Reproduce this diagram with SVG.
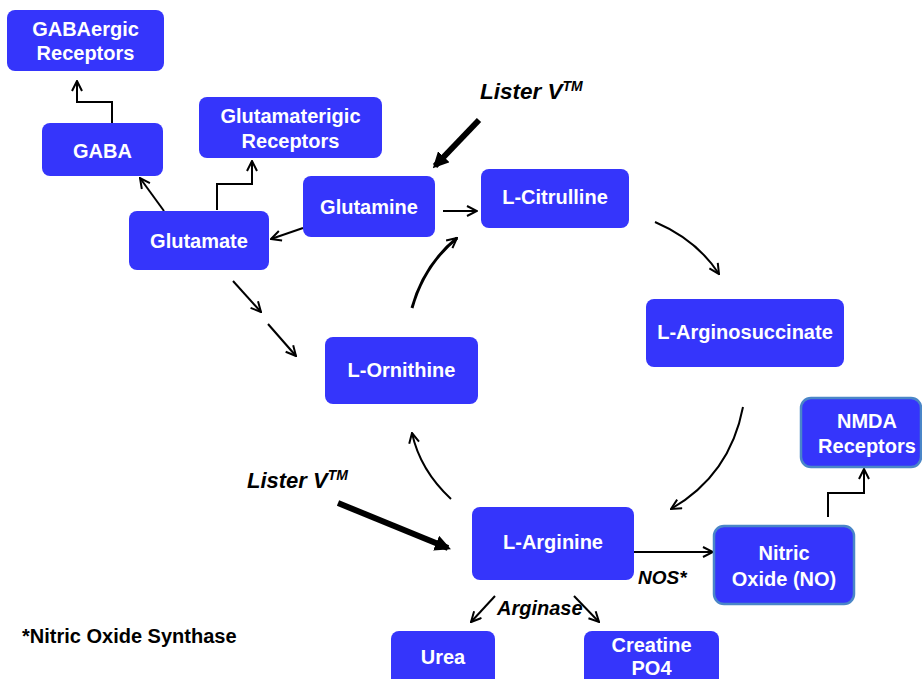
<svg xmlns="http://www.w3.org/2000/svg" width="922" height="679" viewBox="0 0 922 679">
<style>
.box{fill:#3535fb;}
.bb{fill:#3535fb;stroke:#4a86c8;stroke-width:2.5;}
.t{font-family:"Liberation Sans",Arial,sans-serif;font-weight:bold;font-size:20px;fill:#fff;text-anchor:middle;}
.k{font-family:"Liberation Sans",Arial,sans-serif;font-weight:bold;fill:#000;}
.ln{fill:none;stroke:#000;stroke-width:2;marker-end:url(#open);}
.th{fill:none;stroke:#000;stroke-width:6;marker-end:url(#solid);}
</style>
<defs>
<marker id="open" viewBox="0 0 12 12" refX="11" refY="6" markerWidth="12" markerHeight="12" markerUnits="userSpaceOnUse" orient="auto"><path d="M1,1 L11,6 L1,11" fill="none" stroke="#000" stroke-width="2"/></marker>
<marker id="solid" viewBox="0 0 10 10" refX="8" refY="5" markerWidth="16" markerHeight="16" markerUnits="userSpaceOnUse" orient="auto"><path d="M0,0 L10,5 L0,10 z" fill="#000"/></marker>
</defs>
<rect width="922" height="679" fill="#fff"/>
<g id="connectors">
<path class="ln" d="M164,211 L140,178"/>
<path class="ln" d="M217,210 L217,184 L252,184 L252,161"/>
<path class="ln" d="M112,123 L112,102 L77,102 L77,81"/>
<path class="ln" d="M303,228 L271,239"/>
<path class="ln" d="M443,211 L477,211"/>
<path class="ln" d="M233,281 L261,312"/>
<path class="ln" d="M268,324 L296,356"/>
<path class="ln" d="M412,308 Q424,265 457,238" style="stroke-width:3"/>
<path class="ln" d="M655,222 Q697,240 719,274"/>
<path class="ln" d="M743,407 Q730,475 671,509"/>
<path class="ln" d="M451,499 Q420,470 412,433"/>
<path class="ln" d="M627,552 L713,552"/>
<path class="ln" d="M828,517 L828,493 L864,493 L864,469"/>
<path class="ln" d="M495,596 L471,622"/>
<path class="ln" d="M574,596 L599,622"/>
<path class="th" d="M479,120 L435,166"/>
<path class="th" d="M338,503 L448,548"/>
</g>
<g id="gabaergic"><rect class="box" x="7" y="10" width="157" height="61" rx="8"/><text class="t" x="85.5" y="36">GABAergic</text><text class="t" x="85.5" y="60">Receptors</text></g>
<g id="gaba"><rect class="box" x="42" y="123" width="121" height="53" rx="8"/><text class="t" x="102.5" y="158">GABA</text></g>
<g id="glutamaterigic"><rect class="box" x="199" y="97" width="183" height="61" rx="8"/><text class="t" x="290.5" y="123">Glutamaterigic</text><text class="t" x="290.5" y="148">Receptors</text></g>
<g id="glutamate"><rect class="box" x="129" y="211" width="140" height="59" rx="8"/><text class="t" x="199" y="248">Glutamate</text></g>
<g id="glutamine"><rect class="box" x="303" y="176" width="132" height="61" rx="8"/><text class="t" x="369" y="214">Glutamine</text></g>
<g id="citrulline"><rect class="box" x="481" y="169" width="148" height="59" rx="8"/><text class="t" x="555" y="204">L-Citrulline</text></g>
<g id="arginosuccinate"><rect class="box" x="646" y="299" width="198" height="68" rx="8"/><text class="t" x="745" y="339">L-Arginosuccinate</text></g>
<g id="ornithine"><rect class="box" x="325" y="337" width="153" height="67" rx="8"/><text class="t" x="401.5" y="377">L-Ornithine</text></g>
<g id="arginine"><rect class="box" x="472" y="507" width="162" height="73" rx="8"/><text class="t" x="553" y="549">L-Arginine</text></g>
<g id="nitricoxide"><rect class="bb" x="714" y="526" width="140" height="78" rx="10"/><text class="t" x="784" y="560">Nitric</text><text class="t" x="784" y="586">Oxide (NO)</text></g>
<g id="nmda"><rect class="bb" x="801" y="398" width="120" height="69" rx="10"/><text class="t" x="867" y="428">NMDA</text><text class="t" x="867" y="453">Receptors</text></g>
<g id="urea"><rect class="box" x="391" y="631" width="104" height="60" rx="8"/><text class="t" x="443" y="664">Urea</text></g>
<g id="creatine"><rect class="box" x="584" y="631" width="135" height="60" rx="8"/><text class="t" x="651.5" y="652">Creatine</text><text class="t" x="651.5" y="675">PO4</text></g>
<g id="labels">
<text class="k" x="480" y="99" font-size="22.5" font-style="italic">Lister V<tspan font-size="14" dy="-8">TM</tspan></text>
<text class="k" x="247" y="488" font-size="22" font-style="italic">Lister V<tspan font-size="14" dy="-8">TM</tspan></text>
<text class="k" x="638" y="584" font-size="19" font-style="italic">NOS*</text>
<text class="k" x="497" y="615" font-size="20" font-style="italic">Arginase</text>
<text class="k" x="22" y="643" font-size="20">*Nitric Oxide Synthase</text>
</g>
</svg>
